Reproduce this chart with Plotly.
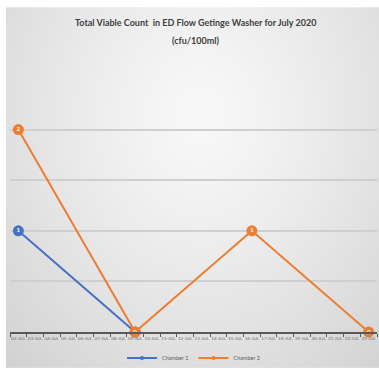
import base64
import struct
import zlib

import numpy as np
import plotly.graph_objects as go

# Sample dates (July 2020)
dates = ["02-JUL", "03-JUL", "04-JUL", "05-JUL", "06-JUL", "07-JUL", "08-JUL",
         "09-JUL", "10-JUL", "11-JUL", "12-JUL", "13-JUL", "14-JUL", "15-JUL",
         "16-JUL", "17-JUL", "18-JUL", "19-JUL", "20-JUL", "21-JUL", "22-JUL",
         "23-JUL"]

# Total viable count (cfu/100ml); None = not sampled
chamber_1 = [1, None, None, None, None, None, None,
             0, None, None, None, None, None, None,
             None, None, None, None, None, None, None,
             None]
chamber_2 = [2, None, None, None, None, None, None,
             0, None, None, None, None, None, None,
             1, None, None, None, None, None, None,
             0]

series = [("Chamber 1", chamber_1, "#4472C4"),
          ("Chamber 2", chamber_2, "#ED7D31")]

FONT = "Lato, sans-serif"


def gradient_png(w=240, h=240):
    """Soft radial grey gradient, light in the middle, darker at the edges."""
    yy, xx = np.mgrid[0:h, 0:w]
    cx, cy = w * 0.52, h * 0.30
    d = np.sqrt(((xx - cx) / (w * 0.75)) ** 2 + ((yy - cy) / (h * 0.95)) ** 2)
    d = np.clip(d, 0, 1)
    val = 248 - 38 * d ** 1.3
    img = np.repeat(val[:, :, None], 3, axis=2).astype(np.uint8)
    raw = b"".join(b"\x00" + row.tobytes() for row in img)

    def chunk(tag, data):
        c = struct.pack(">I", len(data)) + tag + data
        return c + struct.pack(">I", zlib.crc32(tag + data) & 0xFFFFFFFF)

    png = b"\x89PNG\r\n\x1a\n"
    png += chunk(b"IHDR", struct.pack(">IIBBBBB", w, h, 8, 2, 0, 0, 0))
    png += chunk(b"IDAT", zlib.compress(raw, 9))
    png += chunk(b"IEND", b"")
    return "data:image/png;base64," + base64.b64encode(png).decode()


fig = go.Figure()
for name, values, color in series:
    fig.add_trace(go.Scatter(
        x=dates, y=values, name=name,
        mode="lines+markers+text",
        connectgaps=True, showlegend=False,
        line=dict(color=color, width=2),
        marker=dict(color=color, size=11, symbol="circle"),
        text=[("" if v is None else str(v)) for v in values],
        textposition="middle center",
        textfont=dict(color="white", size=6, family=FONT, weight="bold"),
        cliponaxis=False,
    ))
# Legend entries with a small marker sample
for name, _, color in series:
    fig.add_trace(go.Scatter(
        x=[None], y=[None], name=name, mode="lines+markers",
        line=dict(color=color, width=2),
        marker=dict(color=color, size=4),
    ))

W, H = 379, 373
L, R, T, B = 10, 2, 79, 40
pw, ph = W - L - R, H - T - B


def px_x(x):
    return (x - L) / pw


def px_y(y):
    return (H - B - y) / ph


fig.add_layout_image(dict(
    source=gradient_png(),
    xref="paper", yref="paper",
    x=px_x(6), y=px_y(7),
    sizex=px_x(379) - px_x(6), sizey=px_y(7) - px_y(369),
    xanchor="left", yanchor="top",
    sizing="stretch", layer="below",
))

title_font = dict(family=FONT, size=9, color="#404040", weight="bold")
fig.add_annotation(text="Total Viable Count  in ED Flow Getinge Washer for July 2020",
                   xref="paper", yref="paper", x=px_x(195), y=px_y(22),
                   showarrow=False, font=title_font, xanchor="center", yanchor="middle")
fig.add_annotation(text="(cfu/100ml)",
                   xref="paper", yref="paper", x=px_x(195), y=px_y(40),
                   showarrow=False, font=title_font, xanchor="center", yanchor="middle")

fig.update_layout(
    width=W, height=H,
    margin=dict(l=L, r=R, t=T, b=B),
    paper_bgcolor="white",
    plot_bgcolor="rgba(0,0,0,0)",
    showlegend=True,
    legend=dict(orientation="h", x=0.5, xanchor="center",
                y=px_y(358), yanchor="middle",
                font=dict(size=5.5, color="#595959", family=FONT),
                itemwidth=30, bgcolor="rgba(0,0,0,0)"),
)
fig.update_xaxes(
    type="category", range=[-0.5, len(dates) - 0.5],
    showgrid=False, showline=True, linecolor="#595959", linewidth=2,
    ticks="outside", tickson="boundaries", ticklen=3, tickcolor="#595959", tickwidth=1,
    tickfont=dict(size=4.6, color="#6f6f6f", family=FONT),
    tickangle=0, zeroline=False,
)
fig.update_yaxes(
    range=[0, 2.5], dtick=0.5, showticklabels=False,
    showgrid=True, gridcolor="#cfcfcf", gridwidth=1.5,
    zeroline=False, showline=False, ticks="",
)

fig.write_html("out.html")
